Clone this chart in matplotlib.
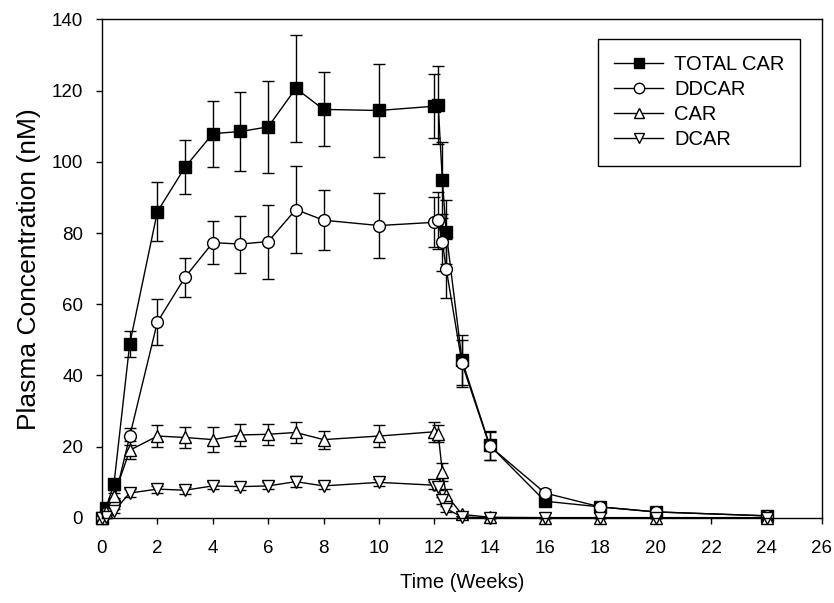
import matplotlib
matplotlib.use("Agg")
import matplotlib.pyplot as plt
from matplotlib.lines import Line2D

plt.rcParams["font.family"] = ["Liberation Sans", "DejaVu Sans"]

# time points (weeks)
weeks = [0, 0.14, 0.43, 1, 2, 3, 4, 5, 6, 7, 8, 10, 12, 12.14, 12.29, 12.43, 13, 14, 16, 18, 20, 24]

total_car = [0, 2.8, 9.4, 48.8, 86.0, 98.5, 107.9, 108.5, 109.8, 120.6, 114.7, 114.4,
             115.6, 116.0, 94.9, 80.2, 44.3, 20.4, 4.7, 3.1, 1.7, 0.6]
total_err = [0, 1.0, 1.5, 3.6, 8.3, 7.6, 9.3, 11.0, 13.0, 15.0, 10.4, 13.0,
             9.0, 11.0, 10.6, 9.0, 7.0, 4.0, 1.0, 0.8, 0.5, 0.3]

ddcar = [0, 1.5, 4.5, 22.9, 55.0, 67.6, 77.3, 76.9, 77.6, 86.6, 83.6, 82.1,
         83.0, 83.6, 77.4, 70.0, 43.4, 20.2, 7.0, 3.1, 1.7, 0.6]
ddcar_err = [0, 0.5, 1.0, 2.5, 6.4, 5.5, 6.0, 8.0, 10.4, 12.3, 8.5, 9.2,
             7.0, 8.0, 8.0, 8.2, 6.5, 4.0, 1.2, 0.8, 0.4, 0.3]

car = [0, 1.7, 6.1, 19.0, 23.0, 22.6, 22.0, 23.3, 23.5, 24.0, 22.0, 23.0,
       24.2, 23.7, 12.9, 6.5, 1.0, 0.2, 0.1, 0.1, 0.1, 0.1]
car_err = [0, 0.5, 1.0, 2.5, 3.2, 3.0, 3.5, 3.0, 3.0, 3.0, 2.5, 3.0,
           2.8, 2.5, 2.5, 1.5, 0.5, 0.1, 0.1, 0.1, 0.1, 0.1]

dcar = [0, 0.2, 1.9, 7.0, 8.1, 7.8, 9.0, 8.8, 9.0, 10.2, 9.0, 10.0,
        9.2, 8.8, 5.0, 2.6, 0.3, 0, 0, 0, 0, 0]
dcar_err = [0, 0.2, 0.5, 1.0, 1.0, 1.0, 1.0, 1.0, 1.0, 1.5, 1.0, 1.0,
            1.0, 1.0, 1.0, 0.8, 0.2, 0, 0, 0, 0, 0]

series = [
    ("TOTAL CAR", total_car, total_err, "s", "black"),
    ("DDCAR", ddcar, ddcar_err, "o", "white"),
    ("CAR", car, car_err, "^", "white"),
    ("DCAR", dcar, dcar_err, "v", "white"),
]

fig = plt.figure(figsize=(8.34, 6.03), dpi=100)
ax = fig.add_axes([0.1223, 0.141, 0.8633, 0.827])

handles = []
for name, y, e, m, fc in series:
    ax.errorbar(weeks, y, yerr=e, color="black", lw=1, marker=m, ms=8.5,
                mfc=fc, mec="black", mew=1, capsize=4.5, capthick=1,
                elinewidth=1, ecolor="black", clip_on=False)
    # legend shows line + marker only (no error bar glyph)
    handles.append(Line2D([], [], color="black", lw=1, marker=m, ms=7.5,
                          mfc=fc, mec="black", mew=1, label=name))

ax.set_xlim(0, 26)
ax.set_ylim(0, 140)
ax.set_xticks(range(0, 27, 2))
ax.set_yticks(range(0, 141, 20))
ax.tick_params(direction="out", length=4.5, width=1, labelsize=13.5,
               top=False, right=False)
ax.tick_params(axis="x", pad=11)
ax.tick_params(axis="y", pad=9)
for s in ax.spines.values():
    s.set_linewidth(1)

ax.set_xlabel("Time (Weeks)", fontsize=14.5, labelpad=12)
ax.set_ylabel("Plasma Concentration (nM)", fontsize=19, labelpad=8)

leg = ax.legend(handles=handles, loc="upper right", bbox_to_anchor=(0.97, 0.96),
                borderaxespad=0, fontsize=14.5, handlelength=2.4,
                handletextpad=0.55, labelspacing=0.3, borderpad=0.8,
                fancybox=False, framealpha=1, edgecolor="black")
leg.get_frame().set_linewidth(1)

fig.savefig("out.png", dpi=100)
